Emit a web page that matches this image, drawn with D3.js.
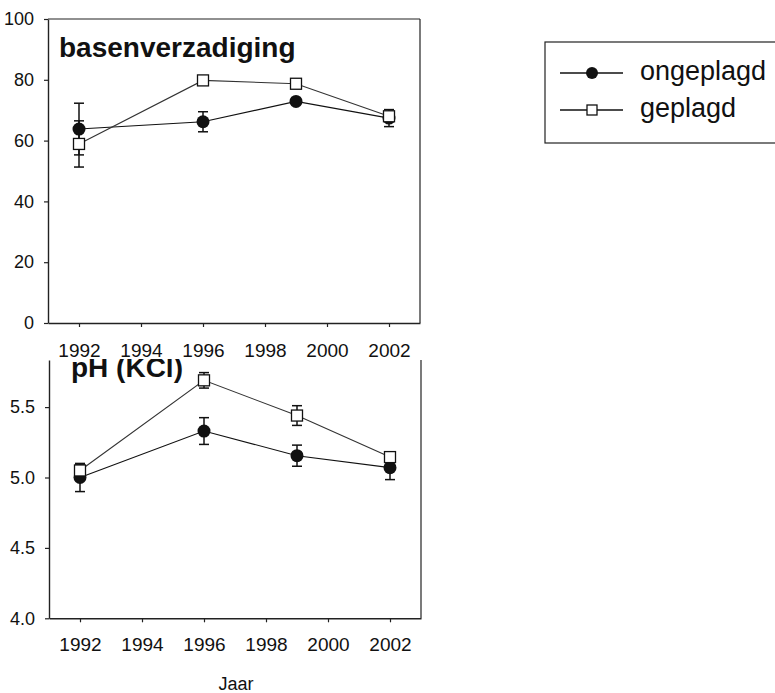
<!DOCTYPE html>
<html><head><meta charset="utf-8">
<script src="https://cdn.jsdelivr.net/npm/d3@7/dist/d3.min.js"></script>
<style>
body{margin:0;background:#fff;}
svg{display:block;font-family:"Liberation Sans",Arial,sans-serif;}
</style></head><body>
<svg id="c" width="775" height="693"></svg>
<script>
// ---- data ----
const years = [1992, 1996, 1999, 2002];
const xTicks = [1992, 1994, 1996, 1998, 2000, 2002];
const bvTicks = [0, 20, 40, 60, 80, 100];
const phTicks = [4.0, 4.5, 5.0, 5.5];
const bvOngeplagd = [63.8, 66.2, 72.9, 67.4];
const bvOngeplagdErr = [8.5, 3.3, 1.0, 2.8];
const bvGeplagd = [58.9, 79.8, 78.7, 68.0];
const bvGeplagdErr = [7.6, 1.0, 1.0, 1.2];
const phOngeplagd = [5.00, 5.33, 5.155, 5.07];
const phOngeplagdErr = [0.10, 0.095, 0.075, 0.085];
const phGeplagd = [5.05, 5.69, 5.44, 5.145];
const phGeplagdErr = [0.04, 0.055, 0.07, 0.02];
const legendLabels = ["ongeplagd", "geplagd"];

const svg = d3.select("#c");

function panel(opt){
  const g = svg.append("g");
  const x = d3.scaleLinear().domain([1991, 2003]).range(opt.xr);
  const y = d3.scaleLinear().domain(opt.yd).range(opt.yr);
  const [x0, x1] = opt.xr;
  const [yb, yt] = opt.yr;
  // frame
  g.append("line").attr("x1", x1).attr("x2", x1).attr("y1", yt).attr("y2", yb)
    .attr("stroke", "#222").attr("stroke-width", 1.2);
  if (opt.topBorder) g.append("line").attr("x1", x0).attr("x2", x1).attr("y1", yt).attr("y2", yt)
    .attr("stroke", "#222").attr("stroke-width", 1.2);
  // axes
  const ax = g.append("g").attr("transform", `translate(0,${yb})`)
    .call(d3.axisBottom(x).tickValues(xTicks).tickFormat(d3.format("d")).tickSize(4).tickPadding(opt.xpad).tickSizeOuter(0));
  const ay = g.append("g").attr("transform", `translate(${x0},0)`)
    .call(d3.axisLeft(y).tickValues(opt.yticks).tickFormat(opt.yfmt).tickSize(4).tickPadding(10).tickSizeOuter(0));
  [ax, ay].forEach(a => {
    a.select(".domain").attr("stroke", "#222").attr("stroke-width", 1.4);
    a.selectAll(".tick line").attr("stroke", "#222").attr("stroke-width", 1.2);
    a.selectAll("text").attr("fill", "#111").style("font-family", '"Liberation Sans",Arial,sans-serif');
  });
  ax.selectAll("text").style("font-size", "19px");
  ay.selectAll("text").style("font-size", "18px");
  // title
  let tg = g;
  if (opt.clipTop != null) {
    const id = "clip" + Math.round(opt.clipTop);
    svg.append("defs").append("clipPath").attr("id", id)
      .append("rect").attr("x", 0).attr("y", opt.clipTop).attr("width", 775).attr("height", 693);
    tg = g.append("g").attr("clip-path", `url(#${id})`);
  }
  tg.append("text").attr("x", opt.tx).attr("y", opt.ty).text(opt.title)
    .style("font-size", "28px").style("font-weight", "bold").attr("fill", "#111");

  const line = d3.line().x((d, i) => x(years[i])).y(d => y(d));
  function series(vals, errs, shape){
    g.append("path").datum(vals).attr("d", line).attr("fill", "none")
      .attr("stroke", shape === "circle" ? "#111" : "#333").attr("stroke-width", 1.1);
    const eb = g.append("g");
    vals.forEach((v, i) => {
      const cx = x(years[i]);
      const ya = y(v + errs[i]), yb2 = y(v - errs[i]);
      eb.append("line").attr("x1", cx).attr("x2", cx).attr("y1", ya).attr("y2", yb2).attr("stroke", "#111").attr("stroke-width", 1.5);
      eb.append("line").attr("x1", cx - 5).attr("x2", cx + 5).attr("y1", ya).attr("y2", ya).attr("stroke", "#111").attr("stroke-width", 1.5);
      eb.append("line").attr("x1", cx - 5).attr("x2", cx + 5).attr("y1", yb2).attr("y2", yb2).attr("stroke", "#111").attr("stroke-width", 1.5);
    });
    vals.forEach((v, i) => {
      const cx = x(years[i]), cy = y(v);
      if (shape === "circle") g.append("circle").attr("cx", cx).attr("cy", cy).attr("r", 6.5).attr("fill", "#111");
      else g.append("rect").attr("x", cx - 5.5).attr("y", cy - 5.5).attr("width", 11).attr("height", 11)
        .attr("fill", "#fff").attr("stroke", "#111").attr("stroke-width", 1.3);
    });
  }
  series(opt.a, opt.ae, "circle");
  series(opt.b, opt.be, "square");
}

panel({xr: [48, 420], yr: [323, 19], yd: [0, 100], yticks: bvTicks, yfmt: d3.format("d"),
  xpad: 17, topBorder: true, title: "basenverzadiging", tx: 59, ty: 57,
  a: bvOngeplagd, ae: bvOngeplagdErr, b: bvGeplagd, be: bvGeplagdErr});

panel({xr: [49, 421], yr: [618.3, 360], yd: [4.0, 4.0 + 258.3 / 140.8], yticks: phTicks, yfmt: d3.format(".1f"),
  xpad: 15, topBorder: false, title: "pH (KCl)", tx: 71, ty: 377, clipTop: 359,
  a: phOngeplagd, ae: phOngeplagdErr, b: phGeplagd, be: phGeplagdErr});

svg.append("text").attr("x", 236).attr("y", 690).attr("text-anchor", "middle")
  .text("Jaar").style("font-size", "18px").attr("fill", "#111");

// legend
const lg = svg.append("g");
lg.append("rect").attr("x", 545).attr("y", 42).attr("width", 240).attr("height", 101)
  .attr("fill", "#fff").attr("stroke", "#222").attr("stroke-width", 1.2);
legendLabels.forEach((lab, i) => {
  const ly = 73 + i * 37;
  lg.append("line").attr("x1", 560).attr("x2", 623).attr("y1", ly).attr("y2", ly).attr("stroke", "#111").attr("stroke-width", 1.4);
  if (i === 0) lg.append("circle").attr("cx", 592).attr("cy", ly).attr("r", 6).attr("fill", "#111");
  else lg.append("rect").attr("x", 587).attr("y", ly - 5).attr("width", 10).attr("height", 10)
    .attr("fill", "#fff").attr("stroke", "#111").attr("stroke-width", 1.3);
  lg.append("text").attr("x", 640).attr("y", ly + 7).text(lab).style("font-size", "27px").attr("fill", "#111");
});
</script>
</body></html>
